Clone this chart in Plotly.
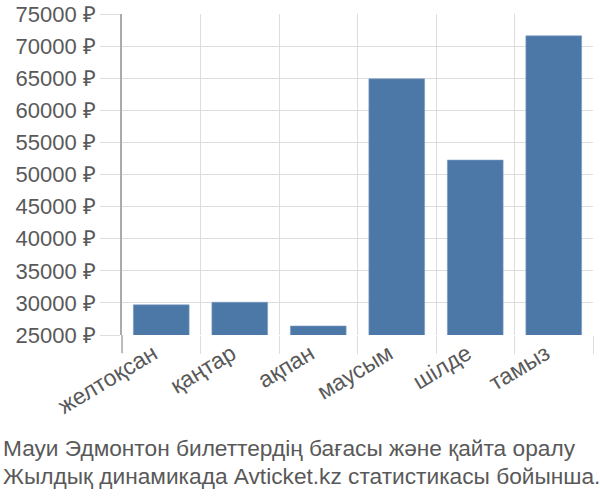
import plotly.graph_objects as go

# --- data ---
months = ['желтоқсан', 'қаңтар', 'ақпан', 'маусым', 'шілде', 'тамыз']
prices = [29700, 30100, 26400, 64900, 52250, 71600]
y_ticks = list(range(25000, 75001, 5000))
y_tick_labels = [f'{v} ₽' for v in y_ticks]
title_lines = ['Мауи Эдмонтон билеттердің бағасы және қайта оралу',
               'Жылдық динамикада Avticket.kz статистикасы бойынша.']

FONT = 'Liberation Sans, Arial, sans-serif'
TEXT = '#595959'
GRID = '#dddddd'

fig = go.Figure(go.Bar(
    x=months,
    y=prices,
    marker=dict(color='#4c78a8', line=dict(color='#7d9cc4', width=0.6)),
    hoverinfo='skip'
))

fig.update_layout(
    width=600, height=500,
    margin=dict(l=122, r=7, t=14, b=165, autoexpand=False),
    plot_bgcolor='white', paper_bgcolor='white',
    bargap=0.29,
    showlegend=False,
    font=dict(family=FONT, color=TEXT),
)

fig.update_xaxes(
    tickson='boundaries', showgrid=True, gridcolor=GRID, gridwidth=1,
    ticks='outside', ticklen=18, tickcolor=GRID,
    tickangle=-31, tickfont=dict(size=23, color=TEXT),
    ticklabelshift=-8,
    showline=False, zeroline=False, automargin=False,
)
fig.update_yaxes(
    range=[25000, 75000], tickvals=y_ticks, ticktext=y_tick_labels,
    showgrid=True, gridcolor=GRID, gridwidth=1,
    ticks='outside', ticklen=20, tickcolor=GRID,
    tickfont=dict(size=22, color=TEXT),
    showline=True, linecolor='#aaaaaa', linewidth=1.5,
    zeroline=False, automargin=False,
)

# darker extension of the left axis line down through the x tick area
fig.add_shape(type='line', xref='paper', yref='paper',
              x0=0, x1=0, y0=0, y1=-18 / 321,
              line=dict(color='#aaaaaa', width=1.5))

# two-line caption under the chart
for i, line in enumerate(title_lines):
    fig.add_annotation(text=line, xref='paper', yref='paper',
                       x=-121 / 471, y=-(113 + 28 * i) / 321,
                       xanchor='left', yanchor='middle', showarrow=False,
                       font=dict(size=22.7, color=TEXT, family=FONT))

# page body margin would shift the whole chart by 8px
fig.write_html('out.html', config={'displayModeBar': False},
               post_script="document.body.style.margin='0';")
